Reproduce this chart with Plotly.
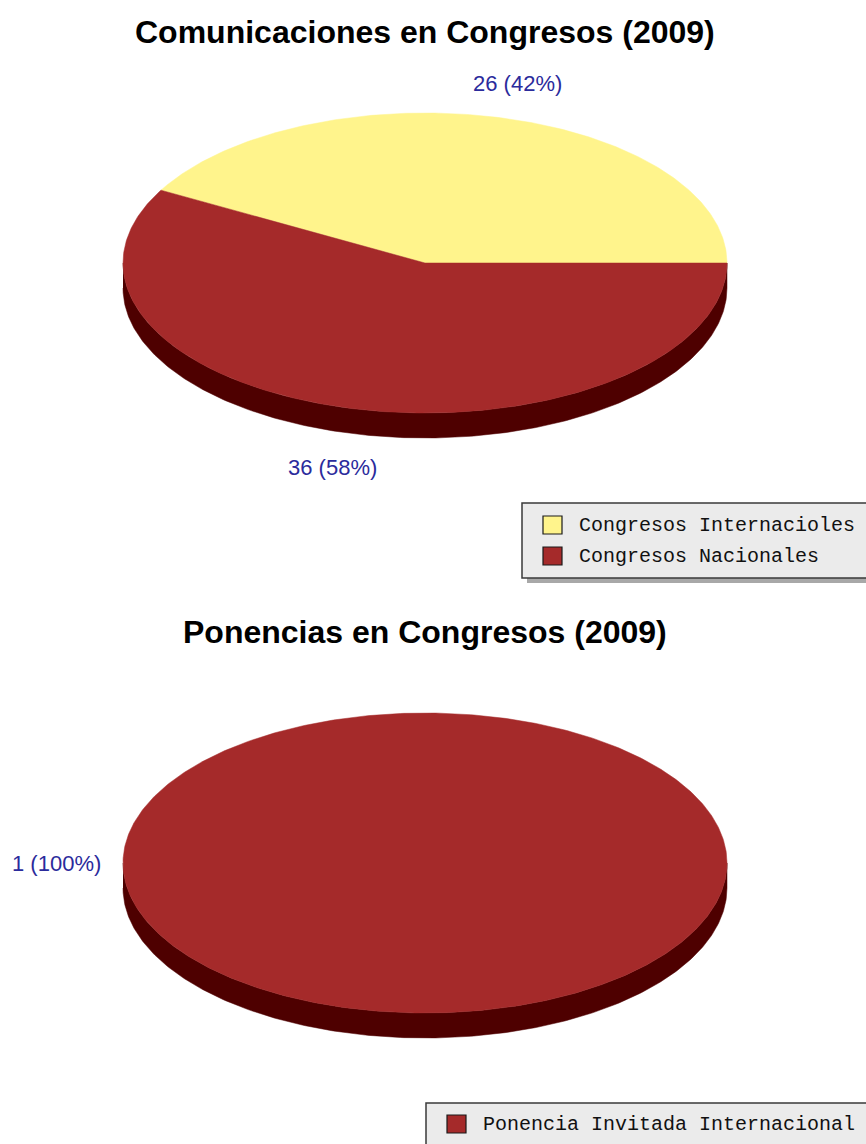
import math
import plotly.graph_objects as go

# ---- data -------------------------------------------------------------
com_labels = ["Congresos Internacioles", "Congresos Nacionales"]
com_values = [26, 36]
com_colors = ["#FFF48C", "#A52A2A"]
com_side_colors = ["#B3A860", "#4E0000"]

pon_labels = ["Ponencia Invitada Internacional"]
pon_values = [1]
pon_colors = ["#A52A2A"]
pon_side_colors = ["#4E0000"]

titles = ["Comunicaciones en Congresos (2009)", "Ponencias en Congresos (2009)"]

W, H = 866, 1144
fig = go.Figure()

TITLE_FONT = dict(family="Liberation Sans", size=32, color="#000000")
LABEL_FONT = dict(family="Liberation Sans", size=22, color="#2B2B9C")
LEGEND_FONT = dict(family="Liberation Mono", size=20, color="#111111")


def arc(cx, cy, rx, ry, a0, a1, dy=0.0, n=None):
    """Points on a tilted (elliptical) pie rim between angles a0..a1 (deg)."""
    if n is None:
        n = max(4, int(abs(a1 - a0) * 1.5))
    xs, ys = [], []
    for i in range(n + 1):
        t = math.radians(a0 + (a1 - a0) * i / n)
        xs.append(cx + rx * math.cos(t))
        ys.append(cy - ry * math.sin(t) + dy)
    return xs, ys


def pie3d(values, colors, side_colors, cx, cy, rx, ry, depth, label_gap=22):
    total = float(sum(values))
    angles = []
    a = 0.0
    for v in values:
        span = 360.0 * v / total
        angles.append((a, a + span))
        a += span

    # side walls (front half only: 180..360 deg)
    for (a0, a1), sc in zip(angles, side_colors):
        s0, s1 = max(a0, 180.0), min(a1, 360.0)
        if s1 <= s0:
            continue
        tx, ty = arc(cx, cy, rx, ry, s0, s1)
        bx, by = arc(cx, cy, rx, ry, s0, s1, dy=depth)
        fig.add_trace(go.Scatter(
            x=tx + bx[::-1], y=ty + by[::-1], mode="lines", fill="toself",
            fillcolor=sc, line=dict(width=0.5, color=sc),
            hoverinfo="skip", showlegend=False))

    # top faces
    for (a0, a1), c in zip(angles, colors):
        xs, ys = arc(cx, cy, rx, ry, a0, a1)
        if a1 - a0 < 359.999:
            xs = [cx] + xs + [cx]
            ys = [cy] + ys + [cy]
        fig.add_trace(go.Scatter(
            x=xs, y=ys, mode="lines", fill="toself", fillcolor=c,
            line=dict(width=0.5, color=c), hoverinfo="skip", showlegend=False))

    # value labels
    for (a0, a1), v in zip(angles, values):
        mid = math.radians((a0 + a1) / 2.0)
        c, s = math.cos(mid), math.sin(mid)
        px = cx + rx * c + label_gap * c
        py = cy - ry * s - 27 * s + (depth if s < 0 else 0)
        pct = round(100.0 * v / total)
        txt = f"{v} ({pct}%)"
        half_w = 45
        py = py + (8 if s < 0 else -8) if abs(s) > 0.3 else py
        fig.add_annotation(x=px + c * half_w, y=py, text=txt, showarrow=False,
                           xanchor="center", yanchor="middle", font=LABEL_FONT)


def legend_box(x0, y0, x1, y1, labels, colors, row_y):
    # drop shadow
    fig.add_shape(type="rect", x0=x0 + 5, y0=y0 + 5, x1=x1 + 5, y1=y1 + 5,
                  fillcolor="#A8A8A8", line=dict(width=0), layer="below")
    fig.add_shape(type="rect", x0=x0, y0=y0, x1=x1, y1=y1,
                  fillcolor="#EBEBEB", line=dict(width=1.5, color="#3A3A3A"),
                  layer="below")
    for lab, col, ry_ in zip(labels, colors, row_y):
        fig.add_shape(type="rect", x0=x0 + 21, y0=ry_ - 9, x1=x0 + 40, y1=ry_ + 9,
                      fillcolor=col, line=dict(width=1.2, color="#1A1A1A"))
        fig.add_annotation(x=x0 + 55, y=ry_, text=lab, showarrow=False,
                           xanchor="left", yanchor="middle", font=LEGEND_FONT)


# ---- first chart ------------------------------------------------------
fig.add_annotation(x=425, y=32, text=f"<b>{titles[0]}</b>", showarrow=False,
                   xanchor="center", yanchor="middle", font=TITLE_FONT)
pie3d(com_values, com_colors, com_side_colors, 425, 263, 302, 150, 25)
legend_box(522, 503, 885, 578, com_labels, com_colors, [525, 556])

# ---- second chart -----------------------------------------------------
fig.add_annotation(x=425, y=632, text=f"<b>{titles[1]}</b>", showarrow=False,
                   xanchor="center", yanchor="middle", font=TITLE_FONT)
pie3d(pon_values, pon_colors, pon_side_colors, 425, 863, 302, 150, 25)
legend_box(426, 1103, 885, 1160, pon_labels, pon_colors, [1124])

fig.update_layout(
    width=W, height=H,
    margin=dict(l=0, r=0, t=0, b=0),
    paper_bgcolor="#FFFFFF", plot_bgcolor="#FFFFFF",
    showlegend=False,
    xaxis=dict(range=[0, W], visible=False, fixedrange=True),
    yaxis=dict(range=[H, 0], visible=False, fixedrange=True),
)

fig.write_html("out.html")
